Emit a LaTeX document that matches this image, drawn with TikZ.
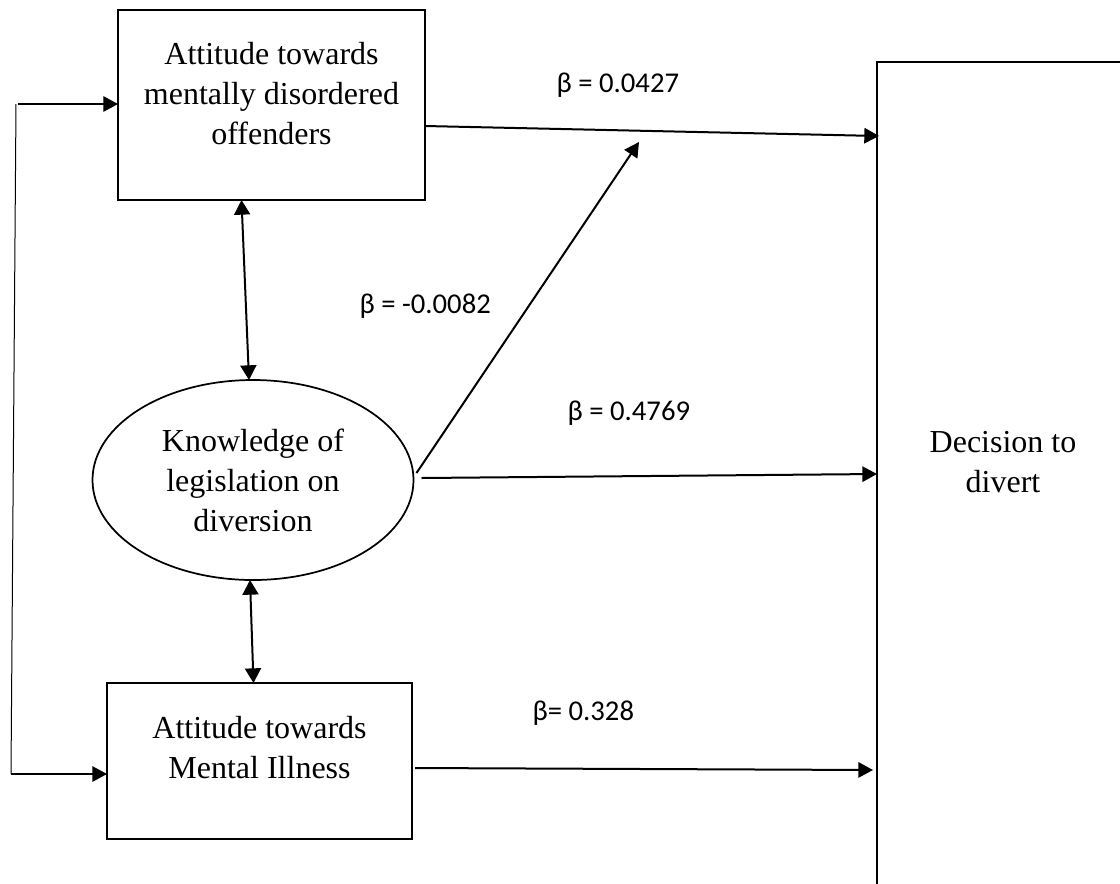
\documentclass[tikz,border=0pt]{standalone}
\usepackage{fontspec}
\setmainfont{Liberation Serif}
\newfontfamily\betafont{Carlito}
\usetikzlibrary{arrows.meta,shapes.geometric,calc}

\begin{document}
\begin{tikzpicture}[x=0.75pt,y=-0.75pt,
	box/.style={draw,line width=1.7pt,inner sep=0pt,outer sep=0pt},
	txt/.style={align=center,font=\fontsize{24}{30}\selectfont},
	beta/.style={anchor=base west,font=\betafont\fontsize{21.5}{26}\selectfont},
	arr/.style={line width=1.5pt,-{Triangle[length=11pt,width=11.5pt]}},
	darr/.style={line width=1.5pt,{Triangle[length=11pt,width=12pt]}-{Triangle[length=11pt,width=12pt]}}]% {{{ diversion model
	\useasboundingbox (0,0) rectangle (1120,883);
	\clip (0,0) rectangle (1120,883);

	\node[box,minimum width=230.25pt,minimum height=142.5pt] (att) at (271.5,105) {};
	\node[txt] (attT) at (271.5,94) {Attitude towards\\mentally disordered\\offenders};
	\node[draw,ellipse,line width=1.3pt,inner sep=0pt,outer sep=0pt,minimum width=240.75pt,minimum height=150pt,txt] (know) at (253,480) {Knowledge of\\legislation on\\diversion};
	\node[box,minimum width=228.75pt,minimum height=117pt] (ami) at (259.5,761) {};
	\node[txt] (amiT) at (259.5,748) {Attitude towards\\Mental Illness};
	\node[box,line width=1.9pt,minimum width=197.25pt,minimum height=643.5pt] (dec) at (1008.5,491) {};
	\node[txt] (decT) at (1003,462) {Decision to\\divert};

	\coordinate (mid) at (639,142);
	\coordinate (lt) at (16,104);
	\coordinate (lb) at (11,774);

	\draw[arr] ($(att.east)+(0,21)$) -- ($(dec.west)+(2,-355)$);
	\draw[arr] ($(know.east)+(3,-7)$) -- (mid);
	\draw[arr] ($(know.east)+(8,-2)$) -- ($(dec.west)+(0,-17)$);
	\draw[arr] ($(ami.east)+(3,7)$) -- ($(dec.west)+(-4,279)$);
	\draw[darr] ($(att.south)+(-30,0)$) -- ($(know.north)+(-4,0)$);
	\draw[darr] ($(know.south)+(-3,0)$) -- ($(ami.north)+(-6,0)$);

	\draw[line width=0.75pt] (lt) -- (lb);
	\draw[arr] ($(lt)+(2,0)$) -- (att.west |- lt);
	\draw[arr] (lb) -- (ami.west |- lb);

	\node[beta] (b1) at (552,92) {β = 0.0427};
	\node[beta] (b2) at (355,313) {β = -0.0082};
	\node[beta] (b3) at (563,420) {β = 0.4769};
	\node[beta] (b4) at (528,720) {β= 0.328};
\end{tikzpicture}
\end{document}
